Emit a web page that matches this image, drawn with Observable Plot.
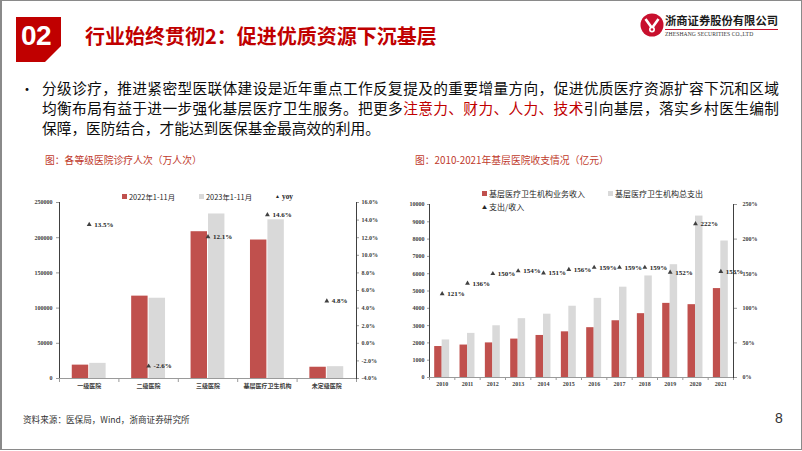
<!DOCTYPE html>
<html><head><meta charset="utf-8">
<script src="https://cdn.jsdelivr.net/npm/d3@7"></script>
<script src="https://cdn.jsdelivr.net/npm/@observablehq/plot@0.6"></script>
<style>
html,body{margin:0;padding:0;background:#fff;}
#slide{position:relative;width:802px;height:451px;overflow:hidden;font-family:"Noto Sans CJK SC","Noto Sans",sans-serif;color:#0d0d0d;}
#frame{position:absolute;left:0;top:0;width:802px;height:450px;box-sizing:border-box;border:1px solid #8a8a8a;border-left-width:2px;pointer-events:none;}
.abs{position:absolute;white-space:nowrap;}
.line{position:absolute;left:42px;width:737px;font-size:14.7px;line-height:20px;text-align:justify;text-align-last:justify;white-space:nowrap;}
.red{color:#C00000;}
.sub{position:absolute;font-size:9.8px;line-height:14px;color:#C0392B;white-space:nowrap;}
.chart{position:absolute;}
.chart svg{position:absolute;left:0;top:0;}
.lg{position:absolute;white-space:nowrap;line-height:10px;color:#262626;}
.sq{display:inline-block;width:5px;height:5px;margin-right:2px;vertical-align:middle;position:relative;top:-1px;}
</style></head>
<body>
<div id="slide">
  <svg class="abs" style="left:16px;top:17px" width="46" height="46">
    <polygon points="0,0 45,0 45,29 29,45 0,45" fill="#C00000"/>
  </svg>
  <div class="abs" style="left:21px;top:18px;font-family:'Liberation Sans',Arial,sans-serif;font-weight:bold;font-size:28px;line-height:36px;color:#fff;letter-spacing:-0.5px;">02</div>
  <div class="abs" style="left:85px;top:23px;font-size:20px;line-height:26px;font-weight:700;color:#C00000;">行业始终贯彻2：促进优质资源下沉基层</div>

  <svg class="abs" style="left:640px;top:13px" width="26" height="26">
    <circle cx="12" cy="12" r="11.5" fill="#C8102E"/>
    <path d="M5.5 6 L12 15 L18.5 6" fill="none" stroke="#fff" stroke-width="2.6"/>
    <circle cx="12" cy="16.5" r="3" fill="#fff"/>
    <circle cx="12" cy="16.5" r="1.3" fill="#C8102E"/>
  </svg>
  <div class="abs" style="left:665px;top:12px;font-size:11.3px;line-height:16px;font-weight:700;color:#1a1a1a;letter-spacing:0px;">浙商证券股份有限公司</div>
  <div class="abs" style="left:665px;top:29px;width:113px;height:1px;background:#C8102E;"></div>
  <div class="abs" style="left:665px;top:30px;font-family:'Liberation Serif',serif;font-size:5.6px;line-height:8px;color:#333;letter-spacing:0.1px;">ZHESHANG SECURITIES CO.,LTD</div>

  <div class="abs" style="left:20px;top:78px;font-size:14px;line-height:20px;">•</div>
  <div class="line" style="top:78px;">分级诊疗，推进紧密型医联体建设是近年重点工作反复提及的重要增量方向，促进优质医疗资源扩容下沉和区域</div>
  <div class="line" style="top:98px;">均衡布局有益于进一步强化基层医疗卫生服务。把更多<span class="red">注意力、财力、人力、技术</span>引向基层，落实乡村医生编制</div>
  <div class="line" style="top:118px;text-align:left;text-align-last:left;">保障，医防结合，才能达到医保基金最高效的利用。</div>

  <div class="sub" style="left:45px;top:153px;">图：各等级医院诊疗人次（万人次）</div>
  <div class="sub" style="left:415px;top:153px;">图：2010-2021年基层医院收支情况（亿元）</div>

  <div class="chart" id="c1" style="left:0px;top:190px;width:400px;height:210px;"></div>
  <div class="chart" id="c2" style="left:390px;top:185px;width:412px;height:215px;"></div>

  <div class="lg" style="left:122px;top:192px;font-size:7.4px;"><span class="sq" style="background:#C0504D"></span>2022年1-11月</div>
  <div class="lg" style="left:199px;top:192px;font-size:7.4px;"><span class="sq" style="background:#D9D9D9"></span>2023年1-11月</div>
  <div class="lg" style="left:275px;top:192px;font-size:7.4px;font-family:'Liberation Serif',serif;font-weight:bold;"><span style="font-size:5px;position:relative;top:-1px;margin-right:2px;">▲</span>yoy</div>

  <div class="lg" style="left:482px;top:189px;font-size:8px;"><span class="sq" style="background:#C0504D"></span>基层医疗卫生机构业务收入</div>
  <div class="lg" style="left:608px;top:189px;font-size:8px;"><span class="sq" style="background:#D9D9D9"></span>基层医疗卫生机构总支出</div>
  <div class="lg" style="left:482px;top:202px;font-size:8px;"><span style="font-size:5px;position:relative;top:-1px;margin-right:2px;">▲</span>支出/收入</div>

  <div class="abs" style="left:23px;top:413px;font-size:8.6px;line-height:12px;color:#333;">资料来源：医保局，Wind，浙商证券研究所</div>
  <div class="abs" style="left:775px;top:409px;font-family:'Liberation Sans',Arial,sans-serif;font-size:14px;line-height:18px;color:#333;">8</div>
  <div id="frame"></div>
</div>
<script>
// ---------- Chart 1 data ----------
const hospCats = ["一级医院","二级医院","三级医院","基层医疗卫生机构","未定级医院"];
const visits2022 = [19000,117000,208500,196700,16000];
const visits2023 = [21500,114000,233700,225400,16800];
const yoyPct = [13.5,-2.6,12.1,14.6,4.8];
const visitTicks = [0,50000,100000,150000,200000,250000];
const yoyTicks = [-4,-2,0,2,4,6,8,10,12,14,16];

// ---------- Chart 2 data ----------
const years = ["2010","2011","2012","2013","2014","2015","2016","2017","2018","2019","2020","2021"];
const income = [1790,1876,2000,2220,2430,2640,2880,3280,3690,4285,4210,5140];
const expenditure = [2170,2550,2990,3400,3660,4120,4575,5220,5870,6520,9330,7890];
const ratioPct = [121,136,150,154,151,156,159,159,159,152,222,153];
const amountTicks = [0,1000,2000,3000,4000,5000,6000,7000,8000,9000,10000];
const ratioTicks = [0,50,100,150,200,250];

const baseStyle = {fontFamily:'"Liberation Serif","Noto Sans CJK SC",serif', fontSize:"6px", fontWeight:"bold", color:"#404040", background:"transparent", overflow:"visible"};

function greyAxes(svg){
  d3.select(svg).selectAll("g[aria-label*='axis'] line, g[aria-label*='axis'] path").attr("stroke","#9a9a9a");
  return svg;
}

// ---------- Chart 1 ----------
{
  const W=400,H=210,ml=59,mr=44,mt=12,mb=22;
  const pIn=0.43,pOut=0.215;
  const step=(W-ml-mr)/(hospCats.length-pIn+2*pOut);
  const half=step*(1-pIn)/2;
  const rows=hospCats.map((c,i)=>({cat:c,v22:visits2022[i],v23:visits2023[i],yoy:yoyPct[i]}));
  const tickLen = 250000/(H-mt-mb)*4;
  const bars=Plot.plot({
    width:W,height:H,marginLeft:ml,marginRight:mr,marginTop:mt,marginBottom:mb,
    style:baseStyle,
    x:{type:"band",domain:hospCats,paddingInner:pIn,paddingOuter:pOut,round:false,label:null,tickSize:0,tickPadding:5},
    y:{domain:[0,250000],ticks:visitTicks,tickFormat:d=>String(d),label:null,tickSize:3,tickPadding:4,line:true},
    marks:[
      Plot.barY(rows,{x:"cat",y:"v22",fill:"#C0504D",insetRight:half+0.5}),
      Plot.barY(rows,{x:"cat",y:"v23",fill:"#D9D9D9",insetLeft:half+0.5}),
      Plot.ruleY([0],{stroke:"#9a9a9a"}),
      Plot.ruleX(hospCats,{x:d=>d,dx:-step/2,y1:0,y2:-tickLen,stroke:"#9a9a9a"}),
      Plot.ruleX([hospCats[hospCats.length-1]],{x:d=>d,dx:step/2,y1:0,y2:-tickLen,stroke:"#9a9a9a"})
    ]
  });
  const yoy=Plot.plot({
    width:W,height:H,marginLeft:ml,marginRight:mr,marginTop:mt,marginBottom:mb,
    style:baseStyle,
    x:{type:"band",domain:hospCats,paddingInner:pIn,paddingOuter:pOut,round:false,axis:null},
    y:{domain:[-4,16],ticks:yoyTicks,tickFormat:d=>d.toFixed(1)+"%",axis:"right",label:null,tickSize:2,tickPadding:3,line:true},
    marks:[
      Plot.dot(rows,{x:"cat",y:"yoy",symbol:"triangle",r:1.8,fill:"#404040"}),
      Plot.text(rows,{x:"cat",y:"yoy",text:d=>d.yoy.toFixed(1)+"%",dx:5,textAnchor:"start",fontSize:7,fontWeight:"bold",fill:"#262626"})
    ]
  });
  const c=document.getElementById("c1");
  c.appendChild(greyAxes(bars));
  c.appendChild(greyAxes(yoy));
}

// ---------- Chart 2 ----------
{
  const W=412,H=215,ml=39,mr=69,mt=19,mb=23;
  const pIn=0.41,pOut=0.205;
  const step=(W-ml-mr)/(years.length-pIn+2*pOut);
  const half=step*(1-pIn)/2;
  const rows=years.map((y,i)=>({year:y,inc:income[i],exp:expenditure[i],ratio:ratioPct[i]}));
  const tickLen=10000/(H-mt-mb)*3;
  const bars=Plot.plot({
    width:W,height:H,marginLeft:ml,marginRight:mr,marginTop:mt,marginBottom:mb,
    style:baseStyle,
    x:{type:"band",domain:years,paddingInner:pIn,paddingOuter:pOut,round:false,label:null,tickSize:0,tickPadding:4},
    y:{domain:[0,10000],ticks:amountTicks,tickFormat:d=>String(d),label:null,tickSize:2,tickPadding:3,line:true},
    marks:[
      Plot.barY(rows,{x:"year",y:"inc",fill:"#C0504D",insetRight:half}),
      Plot.barY(rows,{x:"year",y:"exp",fill:"#D9D9D9",insetLeft:half}),
      Plot.ruleY([0],{stroke:"#9a9a9a"}),
      Plot.ruleX(years,{x:d=>d,dx:-step/2,y1:0,y2:-tickLen,stroke:"#9a9a9a"}),
      Plot.ruleX([years[years.length-1]],{x:d=>d,dx:step/2,y1:0,y2:-tickLen,stroke:"#9a9a9a"})
    ]
  });
  const ratio=Plot.plot({
    width:W,height:H,marginLeft:ml,marginRight:mr,marginTop:mt,marginBottom:mb,
    style:baseStyle,
    x:{type:"band",domain:years,paddingInner:pIn,paddingOuter:pOut,round:false,axis:null},
    y:{domain:[0,250],ticks:ratioTicks,tickFormat:d=>d+"%",axis:"right",label:null,tickSize:3,tickPadding:6,line:true},
    marks:[
      Plot.dot(rows,{x:"year",y:"ratio",symbol:"triangle",r:1.8,fill:"#404040"}),
      Plot.text(rows,{x:"year",y:"ratio",text:d=>d.ratio+"%",dx:5,textAnchor:"start",fontSize:7,fontWeight:"bold",fill:"#262626"})
    ]
  });
  const c=document.getElementById("c2");
  c.appendChild(greyAxes(bars));
  c.appendChild(greyAxes(ratio));
}
</script>
</body></html>
